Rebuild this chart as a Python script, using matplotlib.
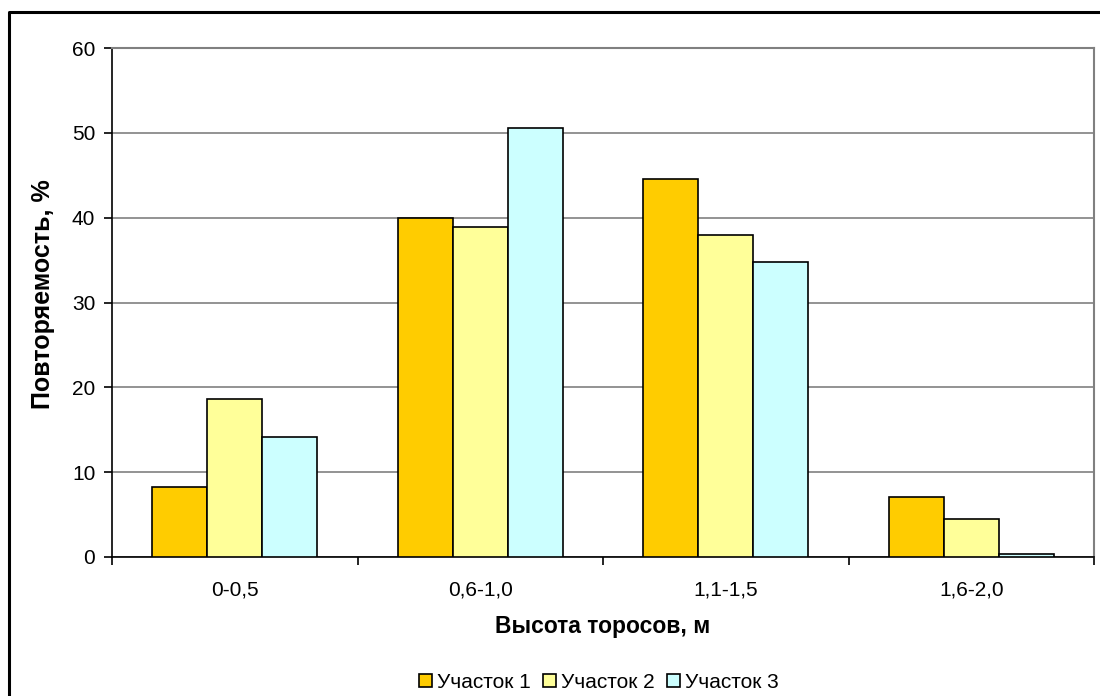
import matplotlib
matplotlib.use("Agg")
import matplotlib.pyplot as plt
from matplotlib.lines import Line2D
import numpy as np

plt.rcParams['font.family'] = ['Liberation Sans', 'DejaVu Sans']

categories = ['0-0,5', '0,6-1,0', '1,1-1,5', '1,6-2,0']
series_names = ['Участок 1', 'Участок 2', 'Участок 3']
site1 = [8.3, 40.0, 44.5, 7.1]
site2 = [18.6, 38.9, 37.9, 4.5]
site3 = [14.2, 50.6, 34.8, 0.3]
colors = ['#FFCC00', '#FFFF99', '#CCFFFF']

fig = plt.figure(figsize=(11, 6.96), dpi=100)
ax = fig.add_axes([112 / 1100, 1 - 557 / 696, (1094 - 112) / 1100, (557 - 48) / 696])

x = np.arange(len(categories))
width = 0.224
for i, (vals, name, c) in enumerate(zip([site1, site2, site3], series_names, colors)):
    ax.bar(x + (i - 1) * width, vals, width, color=c, edgecolor='black',
           linewidth=1.2, label=name, zorder=3)

ax.set_xlim(-0.5, len(categories) - 0.5)
ax.set_ylim(0, 60)
ax.set_yticks(range(0, 61, 10))
ax.yaxis.grid(True, color='#808080', linewidth=1.2, zorder=0)

ax.set_xticks(x)
ax.set_xticklabels(categories)
ax.set_xticks(np.arange(-0.5, len(categories)), minor=True)
ax.tick_params(axis='x', which='major', length=0, pad=17, labelsize=15)
ax.tick_params(axis='x', which='minor', length=6, width=1.2, direction='out')
ax.tick_params(axis='y', length=6, width=1.2, pad=6, labelsize=15)

for side in ['top', 'right']:
    ax.spines[side].set_color('#808080')
    ax.spines[side].set_linewidth(1.5)
for side in ['left', 'bottom']:
    ax.spines[side].set_color('black')
    ax.spines[side].set_linewidth(1.2)

ax.set_xlabel('Высота торосов, м', fontsize=16.5, fontweight='bold', labelpad=11)
ax.set_ylabel('Повторяемость, %', fontsize=18, fontweight='bold')
ax.yaxis.set_label_coords(-0.058, 0.517)

fig.legend(loc='center', bbox_to_anchor=(599 / 1100, 1 - 682 / 696), ncol=3,
           frameon=False, fontsize=15, handlelength=0.6, handleheight=0.6,
           handletextpad=0.25, columnspacing=0.6, borderpad=0)

# chart area frame (left and top edges only)
x0 = 8.5 / 1100
y0 = 1 - 11.5 / 696
fig.add_artist(Line2D([x0, x0, 1.0], [0.0, y0, y0], transform=fig.transFigure,
                      color='black', linewidth=2.2))

fig.savefig('out.png', dpi=100)
